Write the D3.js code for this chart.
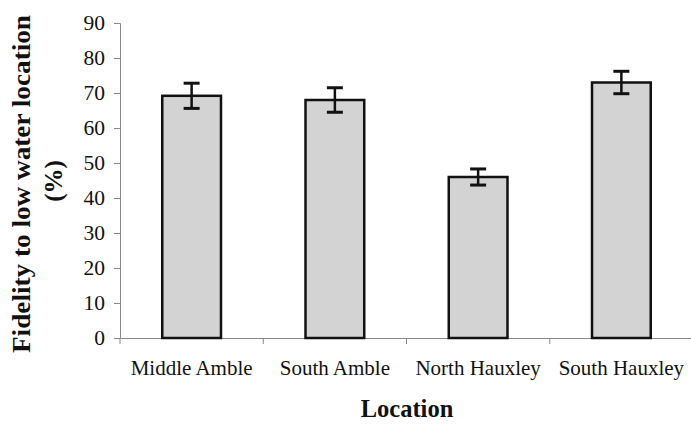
<!DOCTYPE html>
<html>
<head>
<meta charset="utf-8">
<script src="https://cdn.jsdelivr.net/npm/d3@7"></script>
<style>
  html, body { margin: 0; padding: 0; background: #fff; }
  svg { display: block; }
  text { font-family: "Liberation Serif", "Times New Roman", serif; fill: #111; }
</style>
</head>
<body>
<svg id="chart" width="691" height="427"></svg>
<script>
(function () {
  'use strict';

  // values
  const locations = ['Middle Amble', 'South Amble', 'North Hauxley', 'South Hauxley'];
  const fidelity = [69.2, 68.0, 46.0, 73.0];
  const errors = [3.6, 3.5, 2.3, 3.2];
  const yTicks = [0, 10, 20, 30, 40, 50, 60, 70, 80, 90];

  const svg = d3.select('#chart');
  const left = 120, right = 693, top = 23, bottom = 338;

  const x = d3.scaleBand().domain(locations).range([left, right]).padding(0);
  const y = d3.scaleLinear().domain([0, 90]).range([bottom, top]);
  const barW = x.bandwidth() * 0.41;

  // ── Y axis ──────────────────────────────────────────────
  const yAxis = svg.append('g')
    .attr('transform', `translate(${left},0)`)
    .call(d3.axisLeft(y).tickValues(yTicks).tickSize(6).tickPadding(9));
  yAxis.select('.domain').attr('stroke', '#888').attr('stroke-width', 1);
  yAxis.selectAll('.tick line').attr('stroke', '#888');
  yAxis.selectAll('.tick text')
    .attr('font-size', 21.5)
    .attr('fill', '#111');

  // ── X axis ──────────────────────────────────────────────
  const xAxis = svg.append('g')
    .attr('transform', `translate(0,${bottom})`)
    .call(d3.axisBottom(x).tickSize(0).tickPadding(22));
  xAxis.select('.domain').attr('stroke', '#888').attr('stroke-width', 1);
  xAxis.selectAll('.tick text')
    .attr('font-size', 21)
    .attr('fill', '#111');

  // boundary ticks between categories
  const bounds = locations.map(c => x(c)).concat([right]);
  svg.append('g').selectAll('line')
    .data(bounds)
    .enter()
    .append('line')
    .attr('x1', d => d).attr('x2', d => d)
    .attr('y1', bottom).attr('y2', bottom + 6)
    .attr('stroke', '#888');

  // ── Bars ───────────────────────────────────────────────
  const cx = c => x(c) + x.bandwidth() / 2;

  svg.append('g').selectAll('rect')
    .data(locations)
    .enter()
    .append('rect')
    .attr('x', c => cx(c) - barW / 2)
    .attr('y', (c, i) => y(fidelity[i]))
    .attr('width', barW)
    .attr('height', (c, i) => y(0) - y(fidelity[i]))
    .attr('fill', '#d3d3d3')
    .attr('stroke', '#111')
    .attr('stroke-width', 2.5);

  // ── Error bars ──────────────────────────────────────────
  const eb = svg.append('g').attr('stroke', '#111').attr('stroke-width', 2.5);
  locations.forEach((c, i) => {
    const hi = y(fidelity[i] + errors[i]);
    const lo = y(fidelity[i] - errors[i]);
    eb.append('line').attr('x1', cx(c)).attr('x2', cx(c)).attr('y1', hi).attr('y2', lo);
    eb.append('line').attr('x1', cx(c) - 8).attr('x2', cx(c) + 8).attr('y1', hi).attr('y2', hi).attr('stroke-width', 3);
    eb.append('line').attr('x1', cx(c) - 8).attr('x2', cx(c) + 8).attr('y1', lo).attr('y2', lo).attr('stroke-width', 3);
  });

  // ── Axis titles ─────────────────────────────────────────
  svg.append('text')
    .attr('transform', 'translate(30,184) rotate(-90)')
    .attr('text-anchor', 'middle')
    .attr('font-size', 25)
    .attr('font-weight', 'bold')
    .attr('textLength', 338)
    .attr('lengthAdjust', 'spacingAndGlyphs')
    .text('Fidelity to low water location');

  svg.append('text')
    .attr('transform', 'translate(62,181) rotate(-90)')
    .attr('text-anchor', 'middle')
    .attr('font-size', 25)
    .attr('font-weight', 'bold')
    .text('(%)');

  svg.append('text')
    .attr('x', 407)
    .attr('y', 417)
    .attr('text-anchor', 'middle')
    .attr('font-size', 24.5)
    .attr('font-weight', 'bold')
    .text('Location');
})();
</script>
</body>
</html>
